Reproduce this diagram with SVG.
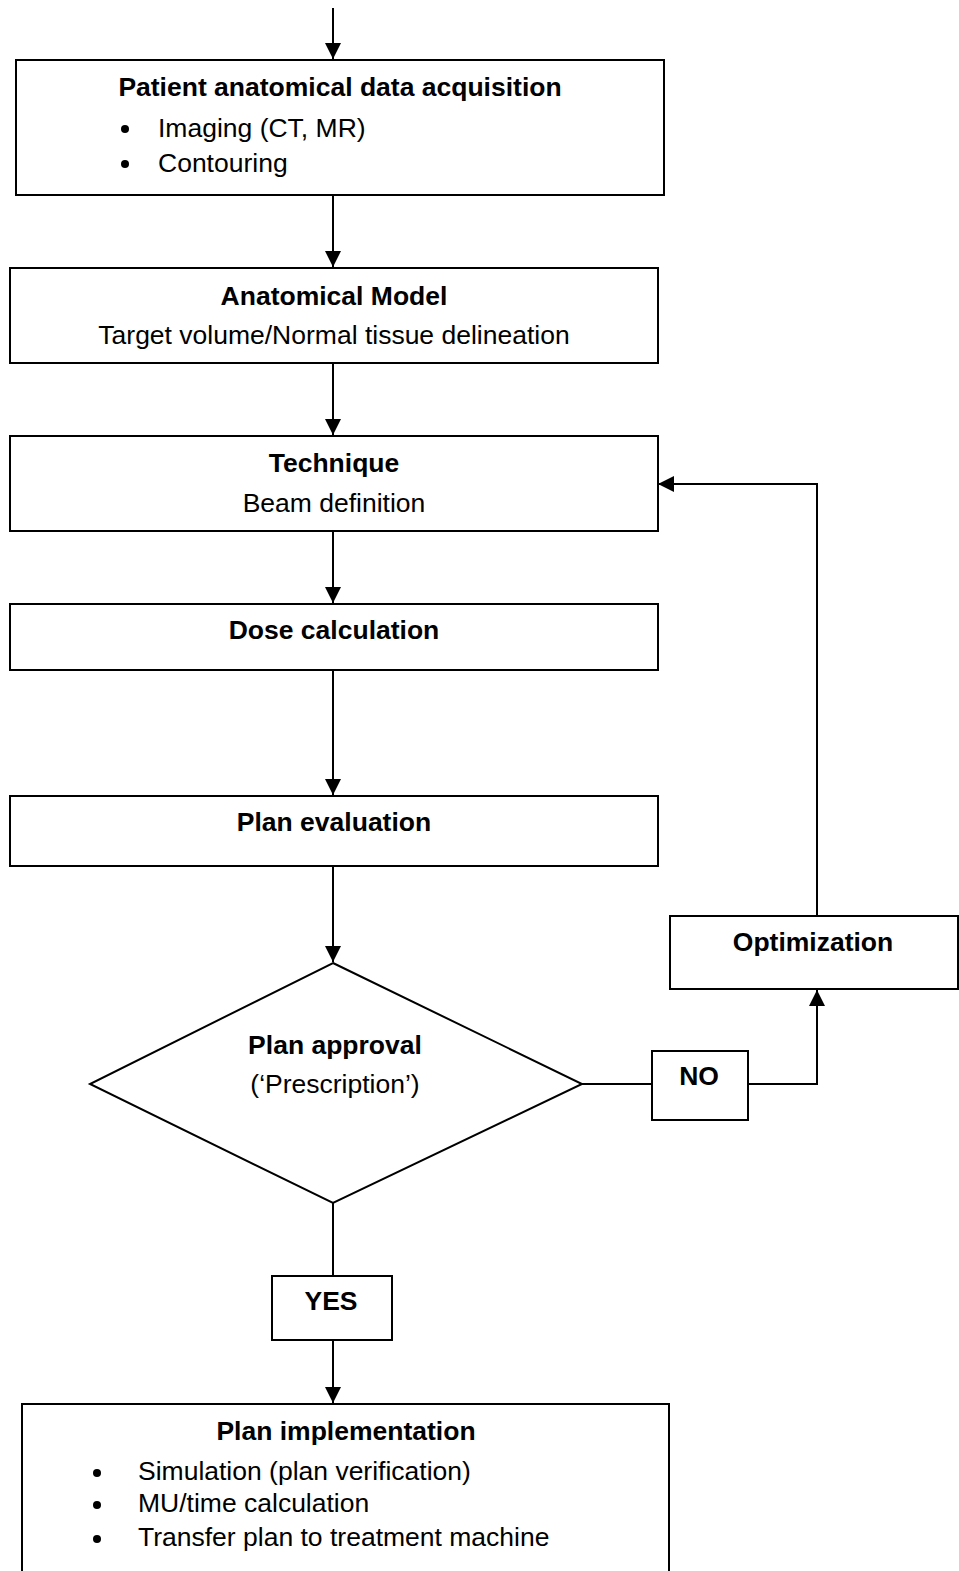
<svg xmlns="http://www.w3.org/2000/svg" width="959" height="1571" viewBox="0 0 959 1571">
<style>
.box{fill:#fff;stroke:#000;stroke-width:2}
.ln{fill:none;stroke:#000;stroke-width:2}
text{font-family:"Liberation Sans",Arial,sans-serif;font-size:26.5px;fill:#000}
.b{font-weight:bold}
.c{text-anchor:middle}
</style>
<defs>
<marker id="ah" viewBox="0 0 16 16" refX="16" refY="8" markerWidth="16" markerHeight="16" markerUnits="userSpaceOnUse" orient="auto">
<path d="M0,0 L16,8 L0,16 Z" fill="#000"/>
</marker>
</defs>
<g id="connectors">
<line class="ln" x1="333" y1="8" x2="333" y2="59" marker-end="url(#ah)"/>
<line class="ln" x1="333" y1="195" x2="333" y2="267" marker-end="url(#ah)"/>
<line class="ln" x1="333" y1="363" x2="333" y2="435" marker-end="url(#ah)"/>
<line class="ln" x1="333" y1="531" x2="333" y2="603" marker-end="url(#ah)"/>
<line class="ln" x1="333" y1="655" x2="333" y2="795" marker-end="url(#ah)"/>
<line class="ln" x1="333" y1="866" x2="333" y2="962" marker-end="url(#ah)"/>
<line class="ln" x1="333" y1="1203" x2="333" y2="1276"/>
<line class="ln" x1="333" y1="1340" x2="333" y2="1403" marker-end="url(#ah)"/>
<line class="ln" x1="582" y1="1084" x2="652" y2="1084"/>
<polyline class="ln" points="748,1084 817,1084 817,990" marker-end="url(#ah)"/>
<polyline class="ln" points="817,916 817,484 658,484" marker-end="url(#ah)"/>
</g>
<g id="acquisition">
<rect class="box" x="16" y="60" width="648" height="135"/>
<text class="b c" x="340" y="96">Patient anatomical data acquisition</text>
<circle cx="125" cy="129" r="4"/>
<text x="158" y="137">Imaging (CT, MR)</text>
<circle cx="125" cy="164" r="4"/>
<text x="158" y="172">Contouring</text>
</g>
<g id="model">
<rect class="box" x="10" y="268" width="648" height="95"/>
<text class="b c" x="334" y="305">Anatomical Model</text>
<text class="c" x="334" y="344">Target volume/Normal tissue delineation</text>
</g>
<g id="technique">
<rect class="box" x="10" y="436" width="648" height="95"/>
<text class="b c" x="334" y="472">Technique</text>
<text class="c" x="334" y="512">Beam definition</text>
</g>
<g id="dose">
<rect class="box" x="10" y="604" width="648" height="66"/>
<text class="b c" x="334" y="639">Dose calculation</text>
</g>
<g id="evaluation">
<rect class="box" x="10" y="796" width="648" height="70"/>
<text class="b c" x="334" y="831">Plan evaluation</text>
</g>
<g id="approval">
<polygon class="box" points="333,963 582,1084 333,1203 90,1084"/>
<text class="b c" x="335" y="1054">Plan approval</text>
<text class="c" x="335" y="1093">(‘Prescription’)</text>
</g>
<g id="no">
<rect class="box" x="652" y="1051" width="96" height="69"/>
<text class="b c" x="699" y="1085">NO</text>
</g>
<g id="optimization">
<rect class="box" x="670" y="916" width="288" height="73"/>
<text class="b c" x="813" y="951">Optimization</text>
</g>
<g id="yes">
<rect class="box" x="272" y="1276" width="120" height="64"/>
<text class="b c" x="331" y="1310">YES</text>
</g>
<g id="implementation">
<rect class="box" x="22" y="1404" width="647" height="180"/>
<text class="b c" x="346" y="1440">Plan implementation</text>
<circle cx="97" cy="1473" r="4"/>
<text x="138" y="1480">Simulation (plan verification)</text>
<circle cx="97" cy="1505" r="4"/>
<text x="138" y="1512">MU/time calculation</text>
<circle cx="97" cy="1539" r="4"/>
<text x="138" y="1546">Transfer plan to treatment machine</text>
</g>
</svg>
